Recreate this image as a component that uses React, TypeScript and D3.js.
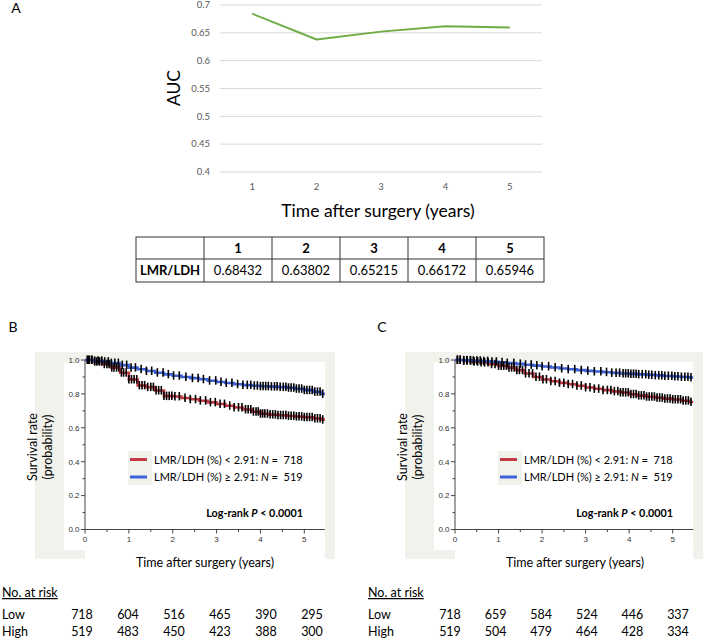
import React from 'react';
import * as d3 from 'd3';

// ---------- Panel A data ----------
const aucYears = ['1', '2', '3', '4', '5'];
const aucValues = [0.68432, 0.63802, 0.65215, 0.66172, 0.65946];
const aucTicks = [0.4, 0.45, 0.5, 0.55, 0.6, 0.65, 0.7];
const aucTickLabels = ['0.4', '0.45', '0.5', '0.55', '0.6', '0.65', '0.7'];
const tableRowLabel = 'LMR/LDH';
const tableValues = ['0.68432', '0.63802', '0.65215', '0.66172', '0.65946'];

// ---------- Kaplan-Meier data ----------
const kmTimes = [0, 0.2, 0.4, 0.6, 0.8, 1.0, 1.2, 1.4, 1.6, 1.8, 2.0, 2.2, 2.4, 2.6, 2.8, 3.0, 3.2, 3.4, 3.6, 3.8, 4.0, 4.2, 4.4, 4.6, 4.8, 5.0, 5.2, 5.4];
const bLow = [1.0, 0.99, 0.975, 0.955, 0.925, 0.885, 0.85, 0.84, 0.82, 0.787, 0.785, 0.776, 0.768, 0.76, 0.75, 0.74, 0.73, 0.72, 0.708, 0.695, 0.683, 0.678, 0.674, 0.67, 0.666, 0.662, 0.655, 0.648];
const bHigh = [1.0, 0.995, 0.99, 0.982, 0.97, 0.955, 0.945, 0.935, 0.925, 0.915, 0.907, 0.9, 0.893, 0.886, 0.878, 0.87, 0.864, 0.857, 0.852, 0.848, 0.845, 0.843, 0.84, 0.836, 0.83, 0.822, 0.812, 0.8];
const cLow = [1.0, 0.995, 0.99, 0.985, 0.975, 0.965, 0.955, 0.94, 0.92, 0.9, 0.885, 0.875, 0.865, 0.857, 0.848, 0.838, 0.83, 0.822, 0.815, 0.808, 0.798, 0.79, 0.783, 0.777, 0.772, 0.767, 0.76, 0.752];
const cHigh = [1.0, 0.998, 0.996, 0.993, 0.99, 0.987, 0.982, 0.977, 0.972, 0.967, 0.962, 0.956, 0.95, 0.945, 0.94, 0.936, 0.932, 0.928, 0.924, 0.92, 0.918, 0.915, 0.912, 0.909, 0.906, 0.903, 0.9, 0.897];

const bLowCensor = [0.05, 0.1, 0.16, 0.22, 0.27, 0.33, 0.38, 0.44, 0.5, 0.55, 0.61, 0.66, 0.72, 0.77, 0.83, 0.88, 0.94, 1.0, 1.06, 1.12, 1.18, 1.24, 1.3, 1.36, 1.43, 1.5, 1.56, 1.62, 1.68, 1.74, 1.8, 1.86, 1.92, 1.98, 2.05, 2.15, 2.28, 2.4, 2.52, 2.63, 2.75, 2.86, 2.97, 3.08, 3.18, 3.3, 3.4, 3.5, 3.58, 3.66, 3.72, 3.78, 3.84, 3.9, 3.95, 4.0, 4.05, 4.1, 4.16, 4.22, 4.28, 4.34, 4.4, 4.46, 4.52, 4.58, 4.64, 4.7, 4.76, 4.82, 4.88, 4.94, 5.0, 5.06, 5.12, 5.18, 5.24, 5.3, 5.36, 5.42];
const bHighCensor = [0.08, 0.15, 0.22, 0.3, 0.38, 0.45, 0.53, 0.6, 0.68, 0.76, 0.85, 0.95, 1.05, 1.15, 1.28, 1.4, 1.52, 1.65, 1.78, 1.9, 2.02, 2.15, 2.3, 2.45, 2.58, 2.7, 2.84, 2.98, 3.1, 3.22, 3.35, 3.48, 3.6, 3.7, 3.78, 3.86, 3.93, 4.0, 4.06, 4.12, 4.18, 4.25, 4.32, 4.38, 4.45, 4.52, 4.58, 4.64, 4.7, 4.76, 4.82, 4.88, 4.94, 5.0, 5.06, 5.12, 5.18, 5.24, 5.3, 5.36, 5.42];
const cLowCensor = [0.06, 0.12, 0.2, 0.28, 0.36, 0.44, 0.52, 0.6, 0.68, 0.76, 0.84, 0.92, 1.0, 1.06, 1.12, 1.18, 1.24, 1.3, 1.36, 1.42, 1.48, 1.55, 1.62, 1.7, 1.78, 1.86, 1.94, 2.02, 2.1, 2.2, 2.3, 2.4, 2.5, 2.6, 2.7, 2.8, 2.9, 3.0, 3.1, 3.2, 3.3, 3.4, 3.5, 3.58, 3.66, 3.74, 3.8, 3.86, 3.92, 3.98, 4.04, 4.1, 4.16, 4.22, 4.28, 4.34, 4.4, 4.46, 4.52, 4.58, 4.64, 4.7, 4.76, 4.82, 4.88, 4.94, 5.0, 5.06, 5.12, 5.18, 5.24, 5.3, 5.36, 5.42];
const cHighCensor = [0.05, 0.12, 0.2, 0.27, 0.35, 0.42, 0.5, 0.58, 0.66, 0.75, 0.85, 0.95, 1.08, 1.2, 1.35, 1.5, 1.62, 1.75, 1.88, 2.0, 2.15, 2.3, 2.45, 2.6, 2.75, 2.9, 3.05, 3.2, 3.35, 3.48, 3.6, 3.7, 3.78, 3.86, 3.92, 3.98, 4.04, 4.1, 4.16, 4.22, 4.3, 4.38, 4.45, 4.52, 4.6, 4.68, 4.75, 4.82, 4.9, 4.98, 5.05, 5.12, 5.2, 5.28, 5.35, 5.42];

const kmYTicks = [0, 0.2, 0.4, 0.6, 0.8, 1.0];
const kmYMinor = [0.1, 0.3, 0.5, 0.7, 0.9];
const kmXTicks = [0, 1, 2, 3, 4, 5];
const kmXMinor = [0.5, 1.5, 2.5, 3.5, 4.5];
const kmXMax = 5.47;

const riskYears = [0, 1, 2, 3, 4, 5];
const bRiskLow = [718, 604, 516, 465, 390, 295];
const bRiskHigh = [519, 483, 450, 423, 388, 300];
const cRiskLow = [718, 659, 584, 524, 446, 337];
const cRiskHigh = [519, 504, 479, 464, 428, 334];

const legendLow = 'LMR/LDH (%) < 2.91: ';
const legendHigh = 'LMR/LDH (%) \u2265 2.91: ';
const nLow = 718;
const nHigh = 519;

const CAL = 'Lato, "Open Sans", sans-serif';
const ARIAL = '"Liberation Sans", Arial, sans-serif';
const RED = '#c23a43';
const BLUE = '#3d62d8';
const BEIGE = '#f2f2ec';

function PanelA() {
  const x = d3.scaleBand<string>().domain(aucYears).range([220, 542]);
  const y = d3.scaleLinear().domain([0.4, 0.7]).range([172, 5]);
  const line = d3.line<number>()
    .x((_, i) => (x(aucYears[i]) as number) + x.bandwidth() / 2)
    .y((d) => y(d));
  const colEdges = [136, 204, 272, 340, 408, 476, 544];
  const rowEdges = [237, 259, 282];
  return (
    <g>
      <text x={16} y={13} fontFamily={CAL} fontSize={14} textAnchor="middle">A</text>
      {aucTicks.map((t, i) => (
        <g key={i}>
          <line x1={220} x2={542} y1={y(t)} y2={y(t)} stroke="#d9d9d9" strokeWidth={1} />
          <text x={210} y={y(t) + 3.3} fontFamily={CAL} fontSize={9.5} fill="#595959" textAnchor="end">{aucTickLabels[i]}</text>
        </g>
      ))}
      {aucYears.map((c) => (
        <text key={c} x={(x(c) as number) + x.bandwidth() / 2} y={189.5} fontFamily={CAL} fontSize={9.5} fill="#595959" textAnchor="middle">{c}</text>
      ))}
      <path d={line(aucValues) as string} fill="none" stroke="#70ad47" strokeWidth={1.9} strokeLinejoin="round" />
      <text transform="translate(180,88) rotate(-90)" fontFamily={CAL} fontSize={17.5} textAnchor="middle">AUC</text>
      <text x={378} y={217} fontFamily={CAL} fontSize={17.5} textAnchor="middle">Time after surgery (years)</text>
      {/* table */}
      <rect x={colEdges[0]} y={rowEdges[0]} width={colEdges[6] - colEdges[0]} height={rowEdges[2] - rowEdges[0]} fill="none" stroke="#333" strokeWidth={1} />
      <line x1={colEdges[0]} x2={colEdges[6]} y1={rowEdges[1]} y2={rowEdges[1]} stroke="#333" strokeWidth={1} />
      {colEdges.slice(1, 6).map((cx, i) => (
        <line key={i} x1={cx} x2={cx} y1={rowEdges[0]} y2={rowEdges[2]} stroke="#333" strokeWidth={1} />
      ))}
      {aucYears.map((c, i) => (
        <text key={c} x={(colEdges[i + 1] + colEdges[i + 2]) / 2} y={252.5} fontFamily={CAL} fontSize={13} fontWeight="bold" textAnchor="middle">{c}</text>
      ))}
      <text x={(colEdges[0] + colEdges[1]) / 2} y={275} fontFamily={CAL} fontSize={13} fontWeight="bold" textAnchor="middle">{tableRowLabel}</text>
      {tableValues.map((v, i) => (
        <text key={i} x={(colEdges[i + 1] + colEdges[i + 2]) / 2} y={275} fontFamily={CAL} fontSize={13} textAnchor="middle">{v}</text>
      ))}
    </g>
  );
}

function survAt(vals: number[], t: number) {
  const idx = d3.bisectRight(kmTimes, t) - 1;
  return vals[Math.max(0, idx)];
}

type KMProps = {
  label: string; labelX: number; ox: number; span5: number;
  low: number[]; high: number[]; lowC: number[]; highC: number[];
  riskLow: number[]; riskHigh: number[]; riskX0: number; riskX1: number; riskLabelX: number;
};

function KMPanel(p: KMProps) {
  const x = d3.scaleLinear().domain([0, 5]).range([p.ox, p.ox + p.span5]);
  const y = d3.scaleLinear().domain([0, 1]).range([529.5, 360]);
  const xEnd = x(kmXMax);
  const step = d3.line<[number, number]>().x((d) => x(d[0])).y((d) => y(d[1])).curve(d3.curveStepAfter);
  const pts = (vals: number[]) => {
    const a: [number, number][] = kmTimes.map((t, i) => [t, vals[i]]);
    a.push([kmXMax, vals[vals.length - 1]]);
    return a;
  };
  const rx = d3.scalePoint<number>().domain(riskYears).range([p.riskX0, p.riskX1]);
  const legX = p.ox + 45;
  return (
    <g>
      <text x={p.labelX} y={332} fontFamily={CAL} fontSize={14} textAnchor="middle">{p.label}</text>
      <rect x={p.ox - 50} y={352} width={xEnd - p.ox + 60} height={207} fill={BEIGE} />
      <rect x={p.ox - 21} y={362} width={xEnd - p.ox + 21} height={188} fill="#fff" />
      <rect x={p.ox} y={548} width={xEnd - p.ox} height={16} fill="#fff" />
      {/* axes */}
      <line x1={p.ox} x2={p.ox} y1={y(1)} y2={y(0)} stroke="#444" strokeWidth={1} />
      <line x1={p.ox} x2={xEnd} y1={y(0)} y2={y(0)} stroke="#444" strokeWidth={1} />
      {kmYTicks.map((t) => (
        <g key={t}>
          <line x1={p.ox - 4} x2={p.ox} y1={y(t)} y2={y(t)} stroke="#444" />
          <text x={p.ox - 5.5} y={y(t) + 2.8} fontFamily={ARIAL} fontSize={8} fill="#333" textAnchor="end">{t.toFixed(1)}</text>
        </g>
      ))}
      {kmYMinor.map((t) => (
        <line key={t} x1={p.ox - 2.5} x2={p.ox} y1={y(t)} y2={y(t)} stroke="#444" />
      ))}
      {kmXTicks.map((t) => (
        <g key={t}>
          <line x1={x(t)} x2={x(t)} y1={y(0)} y2={y(0) + 4} stroke="#444" />
          <text x={x(t)} y={y(0) + 12.5} fontFamily={ARIAL} fontSize={8} fill="#333" textAnchor="middle">{t}</text>
        </g>
      ))}
      {kmXMinor.map((t) => (
        <line key={t} x1={x(t)} x2={x(t)} y1={y(0)} y2={y(0) + 2.5} stroke="#444" />
      ))}
      {/* curves */}
      <path d={step(pts(p.low)) as string} fill="none" stroke={RED} strokeWidth={2.6} />
      <path d={step(pts(p.high)) as string} fill="none" stroke={BLUE} strokeWidth={2.6} />
      {p.lowC.map((t, i) => (
        <line key={'l' + i} x1={x(t)} x2={x(t)} y1={y(survAt(p.low, t)) - 4.5} y2={y(survAt(p.low, t)) + 4} stroke="#000" strokeWidth={1.6} />
      ))}
      {p.highC.map((t, i) => (
        <line key={'h' + i} x1={x(t)} x2={x(t)} y1={y(survAt(p.high, t)) - 4.5} y2={y(survAt(p.high, t)) + 4} stroke="#000" strokeWidth={1.6} />
      ))}
      {/* legend */}
      <rect x={legX - 2} y={451} width={24} height={34} fill={BEIGE} />
      <line x1={legX} x2={legX + 17} y1={459.5} y2={459.5} stroke={RED} strokeWidth={3} />
      <line x1={legX} x2={legX + 17} y1={477} y2={477} stroke={BLUE} strokeWidth={3} />
      <text x={legX + 24} y={463.5} fontFamily={CAL} fontSize={11}>
        {legendLow}<tspan fontStyle="italic">N</tspan>{' =\u00a0 ' + nLow}
      </text>
      <text x={legX + 24} y={481} fontFamily={CAL} fontSize={11}>
        {legendHigh}<tspan fontStyle="italic">N</tspan>{' =\u00a0 ' + nHigh}
      </text>
      <text x={legX + 173} y={516.5} fontFamily={CAL} fontSize={10.8} fontWeight="bold" textAnchor="end">
        Log-rank <tspan fontStyle="italic">P</tspan> &lt; 0.0001
      </text>
      {/* titles */}
      <text transform={`translate(${p.ox - 48},447) rotate(-90)`} fontFamily={CAL} fontSize={12.5} textAnchor="middle">Survival rate</text>
      <text transform={`translate(${p.ox - 33},447) rotate(-90)`} fontFamily={CAL} fontSize={12.5} textAnchor="middle">(probability)</text>
      <text x={p.ox + 120} y={567} fontFamily={CAL} fontSize={12.5} textAnchor="middle">Time after surgery (years)</text>
      {/* at risk */}
      <text x={p.riskLabelX} y={597} fontFamily={CAL} fontSize={12.5} textDecoration="underline">No. at risk</text>
      <text x={p.riskLabelX} y={619} fontFamily={CAL} fontSize={12.5}>Low</text>
      <text x={p.riskLabelX} y={636} fontFamily={CAL} fontSize={12.5}>High</text>
      {riskYears.map((yr, i) => (
        <g key={yr}>
          <text x={rx(yr)} y={619} fontFamily={CAL} fontSize={12.5} textAnchor="middle">{p.riskLow[i]}</text>
          <text x={rx(yr)} y={636} fontFamily={CAL} fontSize={12.5} textAnchor="middle">{p.riskHigh[i]}</text>
        </g>
      ))}
    </g>
  );
}

export default function App() {
  return (
    <svg width={708} height={642} style={{ position: 'absolute', left: 0, top: 0, background: '#fff' }}>
      <rect x={0} y={0} width={708} height={642} fill="#fff" />
      <PanelA />
      <KMPanel label="B" labelX={13} ox={85} span5={219.3}
        low={bLow} high={bHigh} lowC={bLowCensor} highC={bHighCensor}
        riskLow={bRiskLow} riskHigh={bRiskHigh} riskX0={82} riskX1={312} riskLabelX={2} />
      <KMPanel label="C" labelX={382} ox={455} span5={217.7}
        low={cLow} high={cHigh} lowC={cLowCensor} highC={cHighCensor}
        riskLow={cRiskLow} riskHigh={cRiskHigh} riskX0={450} riskX1={678} riskLabelX={368} />
    </svg>
  );
}
